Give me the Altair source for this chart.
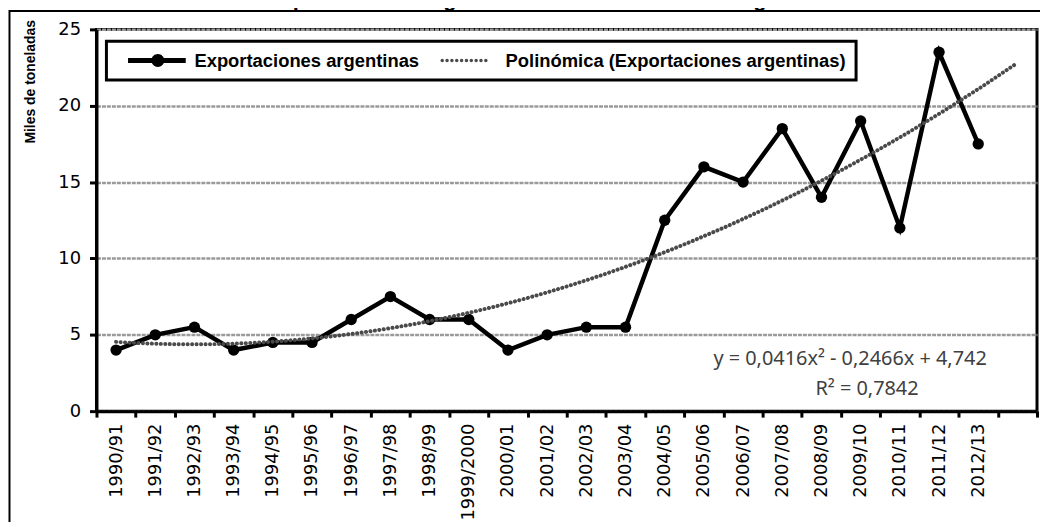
import altair as alt
import pandas as pd

# ---------------- data ----------------
campanas = ["1990/91", "1991/92", "1992/93", "1993/94", "1994/95", "1995/96",
            "1996/97", "1997/98", "1998/99", "1999/2000", "2000/01", "2001/02",
            "2002/03", "2003/04", "2004/05", "2005/06", "2006/07", "2007/08",
            "2008/09", "2009/10", "2010/11", "2011/12", "2012/13"]
exportaciones = [4, 5, 5.5, 4, 4.5, 4.5, 6, 7.5, 6, 6, 4, 5, 5.5, 5.5,
                 12.5, 16, 15, 18.5, 14, 19, 12, 23.5, 17.5]
indice = list(range(1, 24))
slot_extra = [" "]
y_ticks = [0, 5, 10, 15, 20, 25]
serie_main = "Exportaciones argentinas"
serie_trend = "Polinómica (Exportaciones argentinas)"
series = [serie_main, serie_trend]
titulo = "Exportaciones argentinas de aceite de oliva virgen"
eje_y = "Miles de toneladas"
eq_line1 = "y = 0,0416x² - 0,2466x  + 4,742"
eq_line2 = "R² = 0,7842"

df = pd.DataFrame({"campana": campanas, "idx": indice, "val": exportaciones})
df_leg = pd.DataFrame({"serie": series})
one = pd.DataFrame({"k": [0]})

W, H = 946, 384


# ---------------- legend glyphs (custom symbol paths) ----------------
def f(v):
    return f"{v:.3f}"


def rect_path(x0, x1, h):
    return f"M{f(x0)},{f(-h)}L{f(x1)},{f(-h)}L{f(x1)},{f(h)}L{f(x0)},{f(h)}Z"


def circ_path(cx, r):
    return (f"M{f(cx - r)},0A{f(r)},{f(r)} 0 1,1 {f(cx + r)},0"
            f"A{f(r)},{f(r)} 0 1,1 {f(cx - r)},0Z")


glyph_main = rect_path(0.333, 8.07, 0.333) + circ_path(4.33, 0.867)
glyph_trend = "".join(circ_path(0.733 + i * 0.65, 0.23) for i in range(10))

legend = alt.Legend(
    title=None, orient="none", legendX=10, legendY=12, direction="horizontal",
    columns=2, padding=10, strokeColor="black", fillColor="white",
    labelFont="Liberation Sans", labelFontSize=18.5, labelFontWeight="bold",
    labelColor="black", labelLimit=600, labelOffset=60, symbolSize=225,
    symbolStrokeWidth=0, columnPadding=8, symbolOpacity=1,
)

band_scale = alt.Scale(type="band", domain=campanas + slot_extra,
                       paddingInner=0, paddingOuter=0)

x_band = alt.X(
    "campana:N", sort=None, title=None, scale=band_scale,
    axis=alt.Axis(labelAngle=-90, labelFont="DejaVu Sans", labelFontSize=18,
                  labelColor="black", labelPadding=6, tickSize=6, tickWidth=3,
                  tickColor="black", domainColor="black", domainWidth=3,
                  tickBand="extent", grid=False, labelOverlap=False),
)
x_band_noaxis = alt.X("campana:N", sort=None, title=None, scale=band_scale, axis=None)

y_axis = alt.Axis(
    values=y_ticks, title=eje_y,
    titleFont="Liberation Sans", titleFontSize=14,
    titleFontWeight="bold", titleColor="black", titleX=-66, titleY=-10,
    titleAngle=-90, titleAlign="right", titleBaseline="middle",
    labelFont="DejaVu Sans", labelFontSize=18, labelColor="black",
    labelPadding=9, tickSize=7, tickWidth=3, tickColor="black",
    domainColor="black", domainWidth=3, grid=True, gridColor="#9a9a9a",
    gridWidth=2.5, gridDash=[4, 1],
)
y_scale = alt.Scale(domain=[0, 25], nice=False)


def y_enc():
    return alt.Y("val:Q", scale=y_scale, axis=y_axis)


frame = alt.Chart(one).mark_rect(filled=False, stroke="black", strokeWidth=2).encode(
    x=alt.value(-87.5), x2=alt.value(990), y=alt.value(-18.5), y2=alt.value(700)
)

title = alt.Chart(one).mark_text(
    text=titulo, font="Liberation Sans", fontSize=22, fontWeight="bold",
    align="center", baseline="alphabetic", color="black",
).encode(x=alt.value(435), y=alt.value(-23.5))

line = alt.Chart(df).mark_line(color="black", strokeWidth=4.5).encode(
    x=x_band, y=y_enc()
)
points = alt.Chart(df).mark_point(
    filled=True, size=130, color="black", opacity=1, shape="circle"
).encode(x=x_band_noaxis, y=y_enc())

trend = alt.Chart(df).transform_regression(
    "idx", "val", method="poly", order=2, extent=[1, 24]
).mark_line(
    color="#4a4a4a", strokeWidth=4, strokeDash=[0.1, 4.4], strokeCap="round"
).encode(
    x=alt.X("idx:Q", scale=alt.Scale(domain=[0.5, 24.5], nice=False, zero=False),
            axis=None),
    y=y_enc(),
)

leg_layer = alt.Chart(df_leg).transform_filter("false").mark_point(
    filled=True, opacity=1
).encode(
    color=alt.Color("serie:N", scale=alt.Scale(domain=series, range=["black", "#4a4a4a"]),
                    legend=legend),
    shape=alt.Shape("serie:N", scale=alt.Scale(domain=series, range=[glyph_main, glyph_trend]),
                    legend=legend),
)

eq1 = alt.Chart(one).mark_text(
    text=eq_line1, font="Noto Sans", fontSize=20, color="#404040",
    align="center", baseline="middle",
).encode(x=alt.value(758), y=alt.value(332))
eq2 = alt.Chart(one).mark_text(
    text=eq_line2, font="Noto Sans", fontSize=20, color="#404040",
    align="center", baseline="middle",
).encode(x=alt.value(775), y=alt.value(362))

chart = alt.layer(frame, title, line, points, trend, leg_layer, eq1, eq2).resolve_scale(
    x="independent"
).properties(
    width=W, height=H,
    autosize=alt.AutoSizeParams(type="none"),
    padding={"left": 89, "top": 20, "right": 3, "bottom": 110},
).configure_view(
    stroke="black", strokeWidth=3
).configure_legend(
    strokeWidth=3
)

chart.save("out.html", embed_options={"renderer": "svg", "actions": False})
